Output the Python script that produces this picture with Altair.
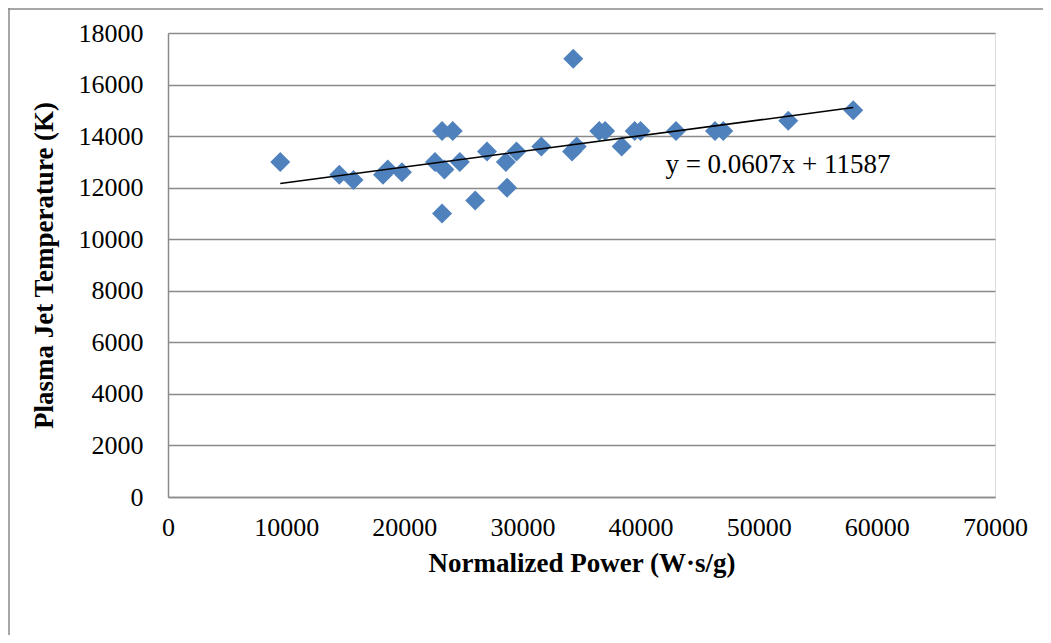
import altair as alt
import pandas as pd

# Data
power = [9500, 14500, 15700, 18200, 18600, 19800, 22600, 23200, 24100, 23400,
         23200, 24700, 26000, 27000, 28600, 28700, 29500, 31600, 34300, 34200,
         34600, 36500, 37000, 38400, 39500, 40000, 43000, 46300, 47000, 52500, 58000]
temperature = [13000, 12500, 12300, 12500, 12700, 12600, 13000, 14200, 14200, 12700,
               11000, 13000, 11500, 13400, 13000, 12000, 13400, 13600, 17000, 13400,
               13600, 14200, 14200, 13600, 14200, 14200, 14200, 14200, 14200, 14600, 15000]

slope = 0.0607
intercept = 11587
trend_x = [min(power), max(power)]
equation_label = ["y = 0.0607x + 11587"]
label_pos_x = [42100]
label_pos_y = [12560]

x_ticks = [0, 10000, 20000, 30000, 40000, 50000, 60000, 70000]
y_ticks = [0, 2000, 4000, 6000, 8000, 10000, 12000, 14000, 16000, 18000]

df = pd.DataFrame({"power": power, "temp": temperature})
trend_df = pd.DataFrame({"power": trend_x, "temp": [slope * v + intercept for v in trend_x]})
label_df = pd.DataFrame({"power": label_pos_x, "temp": label_pos_y, "text": equation_label})

FONT = "Liberation Serif"

xscale = alt.Scale(domain=[0, 70000], nice=False, zero=True)
yscale = alt.Scale(domain=[0, 18000], nice=False, zero=True)

xenc = alt.X("power:Q", scale=xscale,
             axis=alt.Axis(title="Normalized Power (W·s/g)", values=x_ticks, format="d", grid=False,
                           ticks=False, domain=True, domainColor="#8a8a8a", domainWidth=1.5,
                           labelFont=FONT, labelFontSize=26, labelColor="black", labelPadding=17,
                           labelFlush=False,
                           titleFont=FONT, titleFontSize=27, titleFontWeight="bold",
                           titleColor="black", titlePadding=10))
yenc = alt.Y("temp:Q", scale=yscale,
             axis=alt.Axis(title="Plasma Jet Temperature (K)", values=y_ticks, format="d", grid=True,
                           gridColor="#8a8a8a", gridWidth=1.5,
                           ticks=False, domain=True, domainColor="#8a8a8a", domainWidth=1.5,
                           labelFont=FONT, labelFontSize=26, labelColor="black", labelPadding=25,
                           labelFlush=False,
                           titleFont=FONT, titleFontSize=27, titleFontWeight="bold",
                           titleColor="black", titlePadding=20))

points = alt.Chart(df).mark_point(shape="diamond", filled=True, size=400,
                                  color="#4F81BD", opacity=1).encode(x=xenc, y=yenc)

trend = alt.Chart(trend_df).mark_line(color="black", strokeWidth=1.5).encode(
    x="power:Q", y="temp:Q")

label = alt.Chart(label_df).mark_text(font=FONT, fontSize=27, align="left",
                                      baseline="alphabetic", color="black").encode(
    x="power:Q", y="temp:Q", text="text:N")

frame_top = alt.Chart(pd.DataFrame({"a": [0]})).mark_rule(color="#8a8a8a", strokeWidth=1.5).encode(
    x=alt.value(-160), x2=alt.value(900), y=alt.value(-24))
frame_left = alt.Chart(pd.DataFrame({"a": [0]})).mark_rule(color="#8a8a8a", strokeWidth=1.5).encode(
    x=alt.value(-159), y=alt.value(-25), y2=alt.value(700))

chart = alt.layer(points, trend, label, frame_top, frame_left).properties(
    width=827, height=464,
    autosize=alt.AutoSizeParams(type="none"),
    padding={"left": 160, "top": 25, "right": 48, "bottom": 138},
).configure_view(stroke=None).configure(background="white")

chart.save("out.html", embed_options={"renderer": "svg", "actions": False})
